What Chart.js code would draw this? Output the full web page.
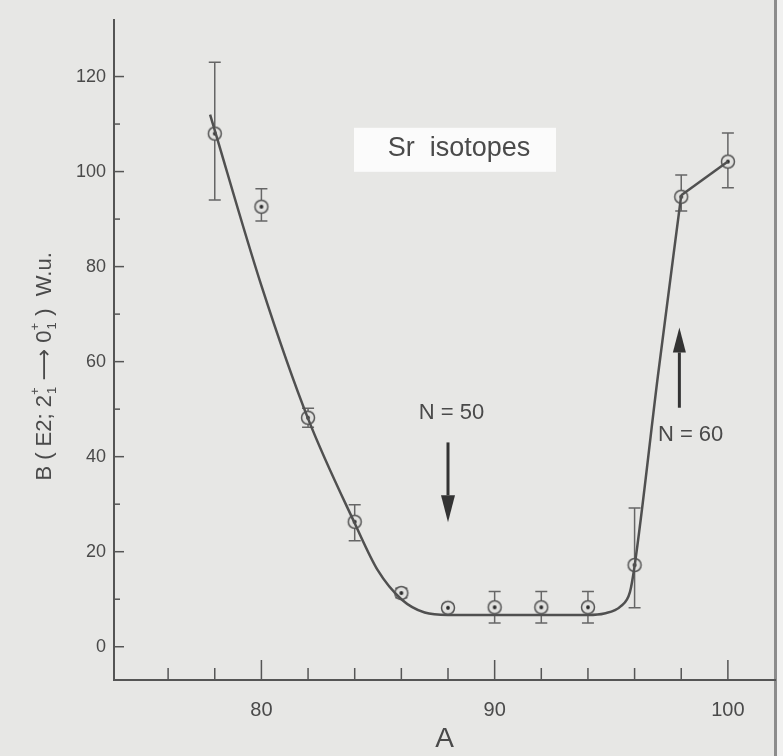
<!DOCTYPE html>
<html>
<head>
<meta charset="utf-8">
<script src="https://cdn.jsdelivr.net/npm/chart.js@4.4.1/dist/chart.umd.min.js"></script>
<style>
html, body { margin: 0; padding: 0; background: #e7e7e5; }
#wrap { width: 783px; height: 756px; }
</style>
</head>
<body>
<div id="wrap"><canvas id="chart" width="783" height="756"></canvas></div>
<script>
// measured B(E2) values for the Sr chain
var massNumbers = [78, 80, 82, 84, 86, 88, 90, 92, 94, 96, 98, 100];
var bE2 = [108, 92.6, 48.2, 26.3, 11.3, 8.2, 8.3, 8.3, 8.3, 17.2, 94.7, 102.1];
var errUp = [15, 3.8, 2, 3.6, 1, 0.8, 3.3, 3.3, 3.3, 12, 4.6, 6];
var errDown = [14, 3, 2, 4, 1, 0.8, 3.3, 3.3, 3.3, 9, 3, 5.5];

// hand drawn guide curve
var curveA = [77.8, 80, 82, 84, 85, 86, 87, 88, 90, 92, 94, 94.7, 95.4, 95.8, 96, 97, 98];
var curveB = [112, 76, 48, 26, 16, 10, 7.2, 6.7, 6.7, 6.7, 6.7, 7, 8.5, 11.5, 17, 57, 95];
var tailA = [98, 100];
var tailB = [95, 102.1];

var xTickLabels = [80, 90, 100];
var yTickLabels = [0, 20, 40, 60, 80, 100, 120];

var FONT = "'Liberation Sans', Arial, 'DejaVu Sans', sans-serif";
var INK = '#4a4a4a';

function pts(xs, ys) {
    var out = [];
    for (var i = 0; i < xs.length; i++) {
        out.push({x: xs[i], y: ys[i]});
    }
    return out;
}

function makeMarker() {
    var c = document.createElement('canvas');
    c.width = 18;
    c.height = 18;
    var g = c.getContext('2d');
    g.beginPath();
    g.arc(9, 9, 6.5, 0, Math.PI * 2);
    g.fillStyle = '#e2e2e0';
    g.fill();
    g.lineWidth = 1.5;
    g.strokeStyle = '#555';
    g.stroke();
    g.beginPath();
    g.arc(9, 9, 1.9, 0, Math.PI * 2);
    g.fillStyle = '#2a2a2a';
    g.fill();
    return c;
}

var errorBars = {
    id: 'errorBars',
    beforeDatasetsDraw: function(chart) {
        var ctx = chart.ctx;
        var x = chart.scales.x, y = chart.scales.y;
        ctx.save();
        ctx.strokeStyle = '#666';
        ctx.lineWidth = 1.5;
        for (var i = 0; i < massNumbers.length; i++) {
            var px = x.getPixelForValue(massNumbers[i]);
            var top = y.getPixelForValue(bE2[i] + errUp[i]);
            var bot = y.getPixelForValue(bE2[i] - errDown[i]);
            ctx.beginPath();
            ctx.moveTo(px, top);
            ctx.lineTo(px, bot);
            ctx.moveTo(px - 6, top);
            ctx.lineTo(px + 6, top);
            ctx.moveTo(px - 6, bot);
            ctx.lineTo(px + 6, bot);
            ctx.stroke();
        }
        ctx.restore();
    }
};

function arrow(ctx, x, yFrom, yTo, headLen, halfW) {
    var dir = yTo > yFrom ? 1 : -1;
    ctx.beginPath();
    ctx.moveTo(x, yFrom);
    ctx.lineTo(x, yTo - dir * headLen);
    ctx.stroke();
    ctx.beginPath();
    ctx.moveTo(x, yTo);
    ctx.lineTo(x - halfW, yTo - dir * headLen);
    ctx.lineTo(x + halfW, yTo - dir * headLen);
    ctx.closePath();
    ctx.fill();
}

var decorations = {
    id: 'decorations',
    beforeDraw: function(chart) {
        var ctx = chart.ctx;
        ctx.save();
        // page edge of the scan
        ctx.fillStyle = '#f1f1f0';
        ctx.fillRect(777, 0, 6, 756);
        ctx.fillStyle = '#8c8c8c';
        ctx.fillRect(774, 0, 3, 756);
        ctx.restore();
    },
    afterDraw: function(chart) {
        var ctx = chart.ctx;
        var x = chart.scales.x, y = chart.scales.y;
        var area = chart.chartArea;
        ctx.save();

        // tick marks pointing into the plot
        ctx.strokeStyle = '#555';
        ctx.lineWidth = 1.5;
        for (var a = 76; a <= 100; a += 2) {
            var px = x.getPixelForValue(a);
            var len = a % 10 === 0 ? 20 : 12;
            ctx.beginPath();
            ctx.moveTo(px, area.bottom);
            ctx.lineTo(px, area.bottom - len);
            ctx.stroke();
        }
        for (var b = 0; b <= 120; b += 10) {
            var py = y.getPixelForValue(b);
            var l = b % 20 === 0 ? 10 : 6;
            ctx.beginPath();
            ctx.moveTo(area.left, py);
            ctx.lineTo(area.left + l, py);
            ctx.stroke();
        }

        // label box
        var bx = x.getPixelForValue(88.3), by = y.getPixelForValue(105);
        ctx.fillStyle = '#fbfbfb';
        ctx.fillRect(bx - 101, by - 20, 202, 44);
        ctx.fillStyle = INK;
        ctx.font = '27px ' + FONT;
        ctx.textAlign = 'center';
        ctx.textBaseline = 'middle';
        ctx.fillText('Sr  isotopes', bx + 4, by + 1);

        // magic number markers
        ctx.font = '22px ' + FONT;
        ctx.fillText('N = 50', x.getPixelForValue(88.15), y.getPixelForValue(49.2));
        ctx.textAlign = 'left';
        ctx.fillText('N = 60', x.getPixelForValue(97.0), y.getPixelForValue(44.6));
        ctx.strokeStyle = '#333';
        ctx.fillStyle = '#333';
        ctx.lineWidth = 3;
        arrow(ctx, x.getPixelForValue(88), y.getPixelForValue(43), y.getPixelForValue(26.2), 27, 7);
        arrow(ctx, x.getPixelForValue(97.92), y.getPixelForValue(50.3), y.getPixelForValue(67.2), 25, 6.5);

        // y axis title with stacked sub/superscripts
        ctx.translate(43, y.getPixelForValue(59));
        ctx.rotate(-Math.PI / 2);
        ctx.fillStyle = INK;
        ctx.textAlign = 'left';
        ctx.textBaseline = 'alphabetic';
        var big = '22px ' + FONT, small = '13px ' + FONT;
        var parts = ['B ( E2; 2', 'sub', ' \u27F6 0', 'sub', ' )  W.u.'];
        ctx.font = big;
        var total = 0;
        for (var i = 0; i < parts.length; i++) {
            if (parts[i] === 'sub') {
                ctx.font = small;
                total += ctx.measureText('+').width + 1;
                ctx.font = big;
            } else {
                total += ctx.measureText(parts[i]).width;
            }
        }
        var cx = -total / 2;
        for (var j = 0; j < parts.length; j++) {
            if (parts[j] === 'sub') {
                ctx.font = small;
                ctx.fillText('+', cx, -4);
                ctx.fillText('1', cx + 1, 13);
                cx += ctx.measureText('+').width + 1;
                ctx.font = big;
            } else {
                ctx.fillText(parts[j], cx, 8);
                cx += ctx.measureText(parts[j]).width;
            }
        }
        ctx.restore();
    }
};

var chart = new Chart(document.getElementById('chart'), {
    type: 'scatter',
    data: {
        datasets: [{
            data: pts(curveA, curveB),
            showLine: true,
            pointRadius: 0,
            borderColor: '#505050',
            borderWidth: 2.5,
            cubicInterpolationMode: 'monotone'
        }, {
            data: pts(tailA, tailB),
            showLine: true,
            pointRadius: 0,
            borderColor: '#505050',
            borderWidth: 2.5,
            tension: 0
        }, {
            data: pts(massNumbers, bE2),
            pointStyle: makeMarker(),
            showLine: false
        }]
    },
    options: {
        responsive: false,
        animation: false,
        layout: { padding: { top: 20, right: 8, left: 0, bottom: 0 } },
        plugins: {
            legend: { display: false },
            tooltip: { enabled: false }
        },
        scales: {
            x: {
                type: 'linear',
                min: 73.68,
                max: 102.02,
                afterFit: function(s) { s.height = 76; },
                afterBuildTicks: function(s) {
                    s.ticks = xTickLabels.map(function(v) { return {value: v}; });
                },
                grid: { display: false, drawTicks: false },
                border: { color: '#555', width: 2 },
                ticks: {
                    color: INK,
                    padding: 18,
                    font: { size: 20, family: FONT }
                },
                title: {
                    display: true,
                    text: 'A',
                    color: INK,
                    padding: { top: 0, bottom: 0 },
                    font: { size: 28, family: FONT }
                }
            },
            y: {
                min: -7,
                max: 131.9,
                afterFit: function(s) { s.width = 114; },
                afterBuildTicks: function(s) {
                    s.ticks = yTickLabels.map(function(v) { return {value: v}; });
                },
                grid: { display: false, drawTicks: false },
                border: { color: '#555', width: 2 },
                ticks: {
                    color: INK,
                    padding: 8,
                    font: { size: 18, family: FONT }
                }
            }
        }
    },
    plugins: [errorBars, decorations]
});
</script>
</body>
</html>
